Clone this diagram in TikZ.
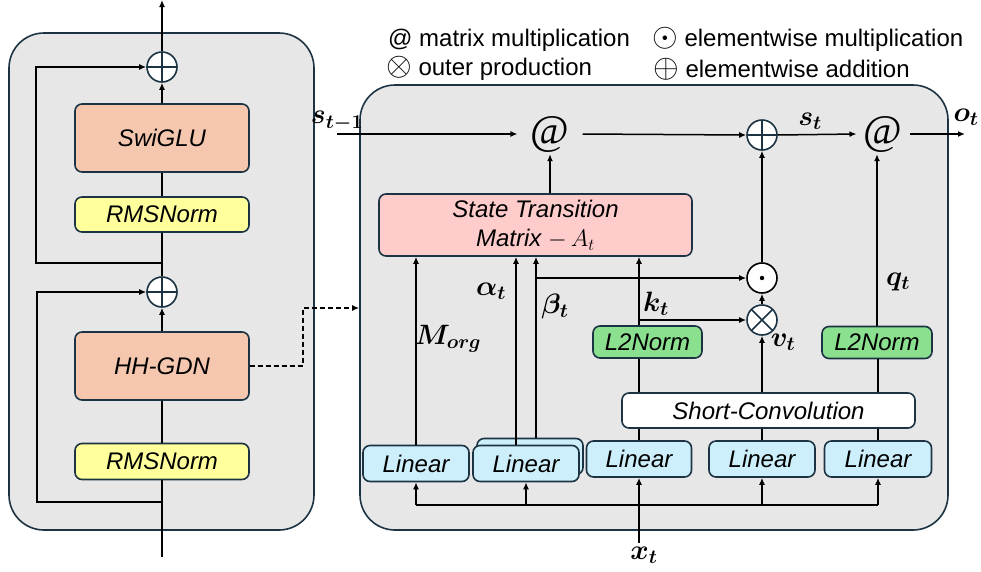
\RequirePackage{fix-cm}
\documentclass[tikz,border=0pt]{standalone}
\usepackage{amsmath}
\usepackage{fontspec}
\setmainfont{Liberation Sans}
\newfontfamily\atfont{Liberation Serif}
\usetikzlibrary{arrows.meta,calc}
\definecolor{edgec}{HTML}{1B3342}
\definecolor{panelc}{HTML}{E7E7E7}
\definecolor{salmonc}{HTML}{F5C7AE}
\definecolor{yelc}{HTML}{FFFF9C}
\definecolor{lbluec}{HTML}{CDEFFB}
\definecolor{lgreenc}{HTML}{8BE08F}
\definecolor{pinkc}{HTML}{FFCCCC}
\tikzset{
  panel/.style={draw=edgec, fill=panelc, line width=1.6pt, rounded corners=35pt, inner sep=0pt},
  blk/.style={draw=edgec, line width=1.6pt, rounded corners=7pt, inner sep=0pt,
    font=\fontsize{24}{29}\selectfont\itshape, align=center},
  conn/.style={line width=1.5pt, black},
  arr/.style={conn, -{Latex[length=7pt,width=6pt]}},
  darr/.style={arr, dashed, dash pattern=on 5pt off 3pt},
  opc/.style={circle, draw=edgec, fill=white, minimum size=30pt, inner sep=0pt, line width=1.6pt},
  oplus/.style={opc, path picture={\draw[edgec,line width=1.6pt] (path picture bounding box.north) -- (path picture bounding box.south) (path picture bounding box.west) -- (path picture bounding box.east);}},
  otimes/.style={opc, path picture={\draw[edgec,line width=1.6pt] (path picture bounding box.north west) -- (path picture bounding box.south east) (path picture bounding box.south west) -- (path picture bounding box.north east);}},
  odot/.style={opc, draw=black, path picture={\fill[black] (path picture bounding box.center) circle (2.2pt);}},
  atop/.style={font=\fontsize{42}{44}\selectfont\atfont, inner xsep=13pt, inner ysep=2pt},
  mlab/.style={font=\fontsize{28}{30}\selectfont, inner sep=0pt},
  leg/.style={font=\fontsize{24}{27}\selectfont, anchor=west, inner sep=0pt}
}
\newcommand{\lsym}[1]{{\fontsize{33}{34}\selectfont\smash{$#1$}}}
\begin{document}
\begin{tikzpicture}[x=1pt,y=-1pt]
\useasboundingbox (0,0) rectangle (981,571);
% panels
\node[panel, minimum width=305pt, minimum height=497pt] (lp) at (161.5,281.5) {};
\node[panel, minimum width=588pt, minimum height=445pt] (rp) at (654,307.5) {};
% legend
\node[leg] (lg1) at (388,40) {@ matrix multiplication};
\node[leg] (lg2) at (386,69) {\lsym{\otimes} outer production};
\node[leg] (lg3) at (652,40) {\lsym{\odot} elementwise multiplication};
\node[leg] (lg4) at (653,69) {\lsym{\oplus} elementwise addition};
% left column
\node[oplus] (p1) at (162,67) {};
\node[blk, fill=salmonc, minimum width=174pt, minimum height=68pt] (swi) at (162,138) {SwiGLU};
\node[blk, fill=yelc, minimum width=174pt, minimum height=35pt] (rms1) at (162,214.5) {RMSNorm};
\node[oplus] (p2) at (162,292) {};
\node[blk, fill=salmonc, minimum width=174pt, minimum height=68pt] (hh) at (162,366) {HH-GDN};
\node[blk, fill=yelc, minimum width=174pt, minimum height=36pt] (rms2) at (162,461.5) {RMSNorm};
\coordinate (topout) at (162,0);
\coordinate (botin) at (162,557);
\coordinate (j1) at (162,263);
\coordinate (l1) at (36,263);
\coordinate (j2) at (162,502);
\coordinate (l2) at (37,502);
\coordinate (dj) at (303,308);
\draw[conn] (botin) -- (rms2.south);
\draw[conn] (rms2.north) -- (hh.south);
\draw[arr] (hh.north) -- (p2.south);
\draw[conn] (p2.north) -- (rms1.south);
\draw[conn] (rms1.north) -- (swi.south);
\draw[arr] (swi.north) -- (p1.south);
\draw[arr] (p1.north) -- (topout);
\draw[arr] (j1) -- (l1) |- (p1.west);
\draw[arr] (j2) -- (l2) |- (p2.west);
\draw[darr] (hh.east) -| (dj) -- (dj -| rp.west);
% right panel nodes
\node[atop] (at1) at (550,134) {@};
\node[oplus] (pl) at (762,135) {};
\node[atop, inner xsep=7pt] (at2) at (883,134) {@};
\node[blk, fill=pinkc, minimum width=313pt, minimum height=62pt] (st) at (535.5,225) {State Transition\\Matrix $-\,A_t$};
\node[odot] (od) at (762,278) {};
\node[otimes] (ot) at (762,320) {};
\node[blk, fill=lgreenc, minimum width=109pt, minimum height=32pt] (l2k) at (647.5,342) {L2Norm};
\node[blk, fill=lgreenc, minimum width=110pt, minimum height=32pt] (l2q) at (877,342.5) {L2Norm};
\node[blk, fill=white, minimum width=293pt, minimum height=35pt] (sc) at (768.5,410.5) {Short-Convolution};
\node[blk, fill=lbluec, minimum width=106pt, minimum height=36pt] (lin1) at (416,463.5) {Linear};
\node[blk, fill=lbluec, minimum width=106pt, minimum height=36pt] (sh) at (530,456.5) {};
\node[blk, fill=lbluec, minimum width=106pt, minimum height=36pt] (lin2) at (526,463.5) {Linear};
\node[blk, fill=lbluec, minimum width=105pt, minimum height=36pt] (lin3) at (639,459) {Linear};
\node[blk, fill=lbluec, minimum width=106pt, minimum height=36pt] (lin4) at (762,459) {Linear};
\node[blk, fill=lbluec, minimum width=107pt, minimum height=36pt] (lin5) at (878,459) {Linear};
% labels
\node[mlab] (ls1) at (337,121) {$\boldsymbol{s_{t-1}}$};
\node[mlab] (lst) at (810,121) {$\boldsymbol{s_{t}}$};
\node[mlab] (lot) at (966,117) {$\boldsymbol{o_{t}}$};
\node[mlab] (lal) at (491,291) {$\boldsymbol{\alpha_{t}}$};
\node[mlab] (lbe) at (555,306) {$\boldsymbol{\beta_{t}}$};
\node[mlab] (lmo) at (448,339) {$\boldsymbol{M_{org}}$};
\node[mlab] (lkt) at (656,304) {$\boldsymbol{k_{t}}$};
\node[mlab] (lqt) at (898,282) {$\boldsymbol{q_{t}}$};
\node[mlab] (lvt) at (783,342) {$\boldsymbol{v_{t}}$};
\node[mlab] (lxt) at (644,555) {$\boldsymbol{x_{t}}$};
% coordinates
\coordinate (sin) at (337,134);
\coordinate (oout) at (965,134);
\coordinate (aX) at ([xshift=-10pt]lin2.north);
\coordinate (bX) at ([xshift=6pt]sh.north);
\coordinate (bj) at (bX |- od.west);
\coordinate (kj) at (lin3.north |- ot.west);
\coordinate (dy) at (0,505);
\coordinate (xin) at (639,543);
% top row
\draw[arr] (sin) -- (at1.west);
\draw[arr] (at1.east) -- (pl.west);
\draw[arr] (pl.east) -- (at2.west);
\draw[arr] (at2.east) -- (oout);
\draw[arr] (st.north -| at1.south) -- (at1.south);
\draw[arr] (od.north) -- (pl.south);
\draw[arr] (ot.north) -- (od.south);
% into state transition
\draw[arr] (lin1.north) -- (lin1.north |- st.south);
\draw[arr] (aX) -- (aX |- st.south);
\draw[arr] (bX) -- (bX |- st.south);
\draw[arr] (bj) -- (od.west);
\draw[conn] (lin3.north) -- (lin3.north |- sc.south);
\draw[conn] (lin3.north |- sc.north) -- (lin3.north |- l2k.south);
\draw[arr] (lin3.north |- l2k.north) -- (lin3.north |- st.south);
\draw[arr] (kj) -- (ot.west);
% v and q
\draw[conn] (lin4.north) -- (lin4.north |- sc.south);
\draw[arr] (lin4.north |- sc.north) -- (ot.south);
\draw[conn] (lin5.north) -- (lin5.north |- sc.south);
\draw[conn] (lin5.north |- sc.north) -- (lin5.north |- l2q.south);
\draw[arr] (l2q.north) -- (l2q.north |- at2.south);
% inputs
\draw[conn] (lin1.south |- dy) -- (lin5.south |- dy);
\draw[arr] (lin1.south |- dy) -- (lin1.south);
\draw[arr] (lin2.south |- dy) -- (lin2.south);
\draw[arr] (lin4.south |- dy) -- (lin4.south);
\draw[arr] (lin5.south |- dy) -- (lin5.south);
\draw[arr] (xin) -- (lin3.south);
\end{tikzpicture}
\end{document}
